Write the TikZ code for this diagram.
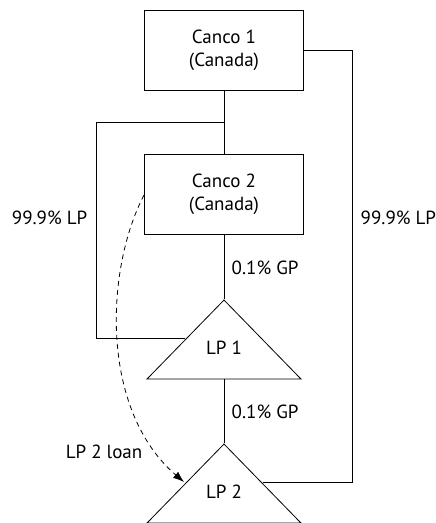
\documentclass[tikz,border=0pt]{standalone}
\usepackage{fontspec}
\setmainfont{PT Sans}
\usetikzlibrary{shapes.geometric,arrows.meta}
\begin{document}
\begin{tikzpicture}[x=1pt,y=-1pt,line width=0.8pt,font=\fontsize{19}{23}\selectfont]
\tikzstyle{firm} = [draw, minimum width=159pt, minimum height=80pt, align=center, inner sep=0pt];
\tikzstyle{lp} = [draw, isosceles triangle, shape border rotate=90, isosceles triangle stretches, minimum width=154pt, minimum height=79pt, inner sep=0pt];
\useasboundingbox (0,0) rectangle (436,523);

\node[firm] (c1) at (224,50) {Canco 1\\(Canada)};
\node[firm] (c2) at (224,194) {Canco 2\\(Canada)};
\node[lp, anchor=apex] (lp1) at (224,299) {};
\node[lp, anchor=apex] (lp2) at (224,443) {};
\node (t-1) at (224,348) {LP 1};
\node (t-2) at (224,492) {LP 2};

\coordinate (j) at (224,122);
\coordinate (l-1) at (96,122);
\coordinate (l-2) at (96,338);
\coordinate (l-3) at (185,338);
\coordinate (r-1) at (352,50);
\coordinate (r-2) at (352,482);
\coordinate (r-3) at (263,482);
\coordinate (d-1) at (144,195);
\coordinate (d-2) at (184,482);

\draw (c1) -- (c2);
\draw (j) -- (l-1) -- (l-2) -- (l-3);
\draw (c1.east) -- (r-1) -- (r-2) -- (r-3);
\draw (c2) -- (lp1.apex);
\draw (lp1.south) -- (lp2.apex);
\draw[dash pattern=on 5pt off 4pt, -{Latex[length=11pt,width=8pt]}] (d-1) .. controls (105,270) and (100,410) .. (d-2);

\node[anchor=east] (p-1) at (91,218) {99.9\% LP};
\node[anchor=west] (p-2) at (357,218) {99.9\% LP};
\node[anchor=west] (g-1) at (228,268) {0.1\% GP};
\node[anchor=west] (g-2) at (228,412) {0.1\% GP};
\node[anchor=east] (loan) at (146,452) {LP 2 loan};
\end{tikzpicture}
\end{document}
